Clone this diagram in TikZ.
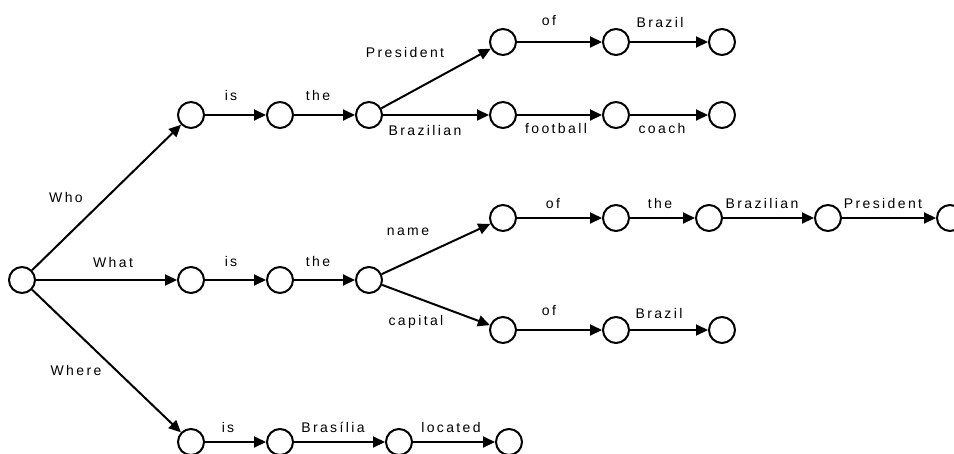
\documentclass[tikz,border=0pt]{standalone}
\usepackage{fontspec}
\setmainfont{Liberation Sans}[LetterSpace=17]
\usetikzlibrary{arrows.meta}
\begin{document}
\begin{tikzpicture}[x=1pt,y=-1pt,
 st/.style={circle,draw,line width=2pt,minimum size=26pt,inner sep=0pt},
 ed/.style={line width=2pt,-{Triangle[length=12pt,width=11pt]}},
 lb/.style={font=\fontsize{14}{16}\selectfont,inner sep=0pt,anchor=base}]
\clip (0,0) rectangle (954,453);
% states
\node[st] (r) at (22,280) {};
\node[st] (a1) at (191,115) {};
\node[st] (a2) at (280,115) {};
\node[st] (a3) at (369,115) {};
\node[st] (b1) at (503,42) {};
\node[st] (b2) at (616,42) {};
\node[st] (b3) at (722,42) {};
\node[st] (c1) at (503,115) {};
\node[st] (c2) at (616,115) {};
\node[st] (c3) at (722,115) {};
\node[st] (d1) at (191,280) {};
\node[st] (d2) at (280,280) {};
\node[st] (d3) at (369,280) {};
\node[st] (e1) at (503,218) {};
\node[st] (e2) at (616,218) {};
\node[st] (e3) at (709,218) {};
\node[st] (e4) at (828,218) {};
\node[st] (e5) at (950,218) {};
\node[st] (f1) at (503,330) {};
\node[st] (f2) at (616,330) {};
\node[st] (f3) at (722,330) {};
\node[st] (g1) at (191,442) {};
\node[st] (g2) at (280,442) {};
\node[st] (g3) at (399,442) {};
\node[st] (g4) at (509,442) {};
% transitions
\draw[ed] (r) -- (a1);
\draw[ed] (r) -- (d1);
\draw[ed] (r) -- (g1);
\draw[ed] (a1) -- (a2);
\draw[ed] (a2) -- (a3);
\draw[ed] (a3) -- (b1);
\draw[ed] (b1) -- (b2);
\draw[ed] (b2) -- (b3);
\draw[ed] (a3) -- (c1);
\draw[ed] (c1) -- (c2);
\draw[ed] (c2) -- (c3);
\draw[ed] (d1) -- (d2);
\draw[ed] (d2) -- (d3);
\draw[ed] (d3) -- (e1);
\draw[ed] (e1) -- (e2);
\draw[ed] (e2) -- (e3);
\draw[ed] (e3) -- (e4);
\draw[ed] (e4) -- (e5);
\draw[ed] (d3) -- (f1);
\draw[ed] (f1) -- (f2);
\draw[ed] (f2) -- (f3);
\draw[ed] (g1) -- (g2);
\draw[ed] (g2) -- (g3);
\draw[ed] (g3) -- (g4);
% labels (base line positions)
\node[lb] (lWho) at (66,202) {Who};
\node[lb] (lWhat) at (113,267) {What};
\node[lb] (lWhere) at (76,375) {Where};
\node[lb] (la1) at (231,100) {is};
\node[lb] (la2) at (318,100) {the};
\node[lb] (lb0) at (405,57) {President};
\node[lb] (lb1) at (549,25) {of};
\node[lb] (lb2) at (660,27) {Brazil};
\node[lb] (lc0) at (425,135) {Brazilian};
\node[lb] (lc1) at (556,133) {football};
\node[lb] (lc2) at (662,133) {coach};
\node[lb] (ld1) at (231,266) {is};
\node[lb] (ld2) at (318,266) {the};
\node[lb] (le0) at (408,235) {name};
\node[lb] (le1) at (553,208) {of};
\node[lb] (le2) at (660,208) {the};
\node[lb] (le3) at (762,208) {Brazilian};
\node[lb] (le4) at (883,208) {President};
\node[lb] (lf0) at (416,325) {capital};
\node[lb] (lf1) at (549,315) {of};
\node[lb] (lf2) at (659,318) {Brazil};
\node[lb] (lg1) at (228,432) {is};
\node[lb] (lg2) at (333,432) {Brasília};
\node[lb] (lg3) at (451,432) {located};
\end{tikzpicture}
\end{document}
